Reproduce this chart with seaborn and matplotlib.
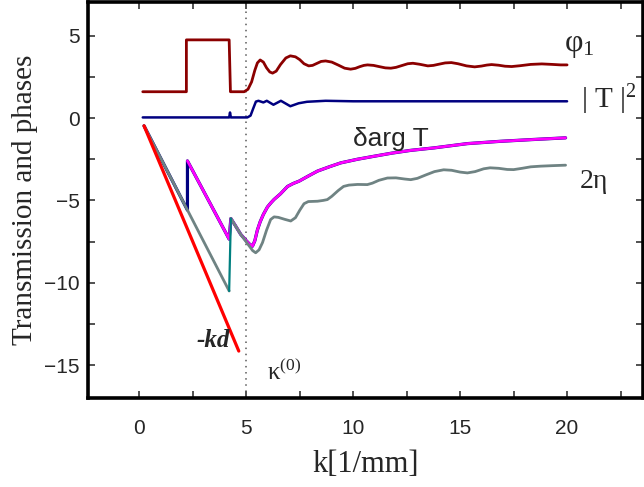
import numpy as np
import pandas as pd
import seaborn as sns
import matplotlib.pyplot as plt
from matplotlib.ticker import MultipleLocator

# Values
k_phi = [0.16, 2.2, 2.2, 4.2, 4.26, 4.9, 5.08, 5.25, 5.4, 5.52, 5.65, 5.8, 5.95, 6.1, 6.23, 6.4,
         6.6, 6.85, 7.06, 7.3, 7.5, 7.7, 7.92, 8.1, 8.3, 8.5, 8.71, 9.0, 9.3, 9.6, 9.88, 10.1,
         10.3, 10.5, 10.67, 10.95, 11.2, 11.5, 11.76, 12.0, 12.3, 12.55, 12.79, 13.1, 13.49,
         13.75, 14.0, 14.3, 14.59, 14.9, 15.3, 15.68, 16.0, 16.25, 16.47, 16.8, 17.1, 17.41,
         17.8, 18.3, 18.82, 19.3, 19.7, 20.0]
phi1 = [1.6, 1.6, 4.75, 4.75, 1.6, 1.6, 1.75, 2.2, 2.9, 3.35, 3.53, 3.4, 3.05, 2.8, 2.73, 2.85,
        3.25, 3.65, 3.78, 3.72, 3.55, 3.3, 3.17, 3.2, 3.32, 3.44, 3.47, 3.4, 3.22, 3.03, 2.97,
        3.02, 3.12, 3.2, 3.23, 3.2, 3.13, 3.05, 3.03, 3.08, 3.2, 3.3, 3.33, 3.27, 3.17,
        3.2, 3.27, 3.35, 3.37, 3.3, 3.17, 3.11, 3.16, 3.22, 3.25, 3.21, 3.15, 3.13,
        3.18, 3.26, 3.29, 3.26, 3.23, 3.23]

k_T2 = [0.16, 4.2, 4.24, 4.28, 5.05, 5.2, 5.33, 5.45, 5.57, 5.8, 5.96, 6.27, 6.62, 7.06, 7.45,
        7.84, 8.71, 10.0, 12.0, 15.0, 20.0]
T2 = [0.04, 0.04, 0.34, 0.04, 0.04, 0.15, 0.6, 1.0, 1.05, 0.95, 1.05, 0.81, 1.05, 0.72, 0.9,
      0.99, 1.05, 1.02, 1.02, 1.02, 1.02]

k_arg = [0.22, 2.25, 2.25, 4.2, 4.28, 4.5, 4.74, 5.0, 5.15, 5.29, 5.4, 5.52, 5.65, 5.8, 5.99,
         6.15, 6.3, 6.6, 6.93, 7.2, 7.47, 7.9, 8.33, 8.9, 9.42, 10.2, 10.97, 11.8, 12.69, 13.78,
         15.34, 16.89, 18.43, 19.93]
delta_arg = [-0.47, -5.59, -2.6, -7.35, -6.1, -6.55, -7.06, -7.45, -7.65, -7.78, -7.45, -6.8,
             -6.3, -5.85, -5.4, -5.15, -4.94, -4.6, -4.15, -3.97, -3.83, -3.52, -3.22, -2.95,
             -2.72, -2.5, -2.32, -2.13, -1.96, -1.81, -1.55, -1.41, -1.3, -1.2]

k_eta = [0.22, 4.2, 4.28, 4.74, 5.1, 5.3, 5.44, 5.6, 5.76, 5.95, 6.14, 6.3, 6.5, 6.8, 7.08, 7.3,
         7.5, 7.7, 7.9, 8.33, 8.6, 8.79, 9.0, 9.3, 9.55, 9.8, 10.2, 10.66, 10.9, 11.2, 11.6,
         12.0, 12.4, 12.69, 13.0, 13.4, 13.8, 14.23, 14.6, 15.0, 15.34, 15.7, 16.1, 16.4,
         16.8, 17.2, 17.5, 17.9, 18.3, 18.76, 19.3, 19.93]
two_eta = [-0.47, -10.5, -6.1, -7.06, -7.7, -8.05, -8.18, -8.0, -7.56, -6.8, -6.16, -6.0, -6.03,
           -6.15, -6.25, -6.05, -5.6, -5.2, -5.07, -5.05, -5.0, -4.95, -4.75, -4.4, -4.15,
           -4.07, -4.03, -4.04, -3.95, -3.78, -3.64, -3.63, -3.7, -3.74, -3.66, -3.45, -3.25,
           -3.14, -3.17, -3.28, -3.33, -3.25, -3.08, -3.02, -3.05, -3.12, -3.13, -3.05, -2.96,
           -2.92, -2.89, -2.86]

k_kd = [0.22, 4.65]
minus_kd = [-0.47, -14.15]

kappa0 = 5.0

# Plotting
sns.set_theme(style="ticks")
plt.rcParams['font.family'] = ['Liberation Sans', 'DejaVu Sans']
plt.rcParams['mathtext.fontset'] = 'custom'
plt.rcParams['mathtext.rm'] = 'Liberation Serif'
plt.rcParams['mathtext.it'] = 'Liberation Serif:italic'
serif = ['Liberation Serif', 'DejaVu Serif']

fig = plt.figure(figsize=(6.44, 4.87), dpi=100)
ax = fig.add_axes([88 / 644, 1 - 398 / 487, (643 - 88) / 644, (398 - 2) / 487])

phi_df = pd.DataFrame({'k': k_phi, 'v': phi1})
t2_df = pd.DataFrame({'k': k_T2, 'v': T2})
arg_df = pd.DataFrame({'k': k_arg, 'v': delta_arg})
eta_df = pd.DataFrame({'k': k_eta, 'v': two_eta})
kd_df = pd.DataFrame({'k': k_kd, 'v': minus_kd})

ax.axvline(kappa0, color='0.35', lw=1.1, ls=(0, (1, 3)), zorder=1)

kw = dict(x='k', y='v', sort=False, estimator=None, ax=ax)
sns.lineplot(data=arg_df, color='#000080', lw=2.3, **kw)
sns.lineplot(data=arg_df.iloc[2:], color='#ff00ff', lw=2.0, **kw)
sns.lineplot(data=eta_df.iloc[:2], color='#6f8383', lw=2.0, **kw)
sns.lineplot(data=eta_df.iloc[2:], color='#6f8383', lw=2.0, **kw)
sns.lineplot(data=eta_df.iloc[1:3], color='#008080', lw=1.6, **kw)
sns.lineplot(data=kd_df, color='#ff0000', lw=2.3, **kw)
sns.lineplot(data=t2_df, color='#000080', lw=1.8, **kw)
sns.lineplot(data=phi_df, color='#8b0000', lw=2.0, **kw)

ax.set_xlim(-2.4, 23.55)
ax.set_ylim(-17, 7.05)
ax.xaxis.set_major_locator(MultipleLocator(5))
ax.xaxis.set_minor_locator(MultipleLocator(2.5))
ax.yaxis.set_major_locator(MultipleLocator(5))
ax.yaxis.set_minor_locator(MultipleLocator(2.5))
ax.tick_params(which='both', direction='in', top=True, right=True, length=5, width=1.2,
               color='0.2', labelsize=15)
ax.tick_params(axis='x', pad=15)
ax.tick_params(axis='y', pad=6)
for s in ax.spines.values():
    s.set_linewidth(2.6)
    s.set_color('black')

ax.set_xlabel('k[1/mm]', family=serif, fontsize=22, labelpad=9)
ax.set_ylabel('Transmission and phases', family=serif, fontsize=21, labelpad=4)

ax.text(20.55, 4.4, 'φ$_1$', family=serif, fontsize=23, ha='center', va='center')
ax.text(21.95, 1.1, '| T |$^2$', family=serif, fontsize=21, ha='center', va='center')
ax.text(11.75, -1.3, 'δarg T', fontsize=19, ha='center', va='center')
ax.text(21.25, -3.85, '2η', family=serif, fontsize=20, ha='center', va='center')
ax.text(3.45, -13.5, '-kd', family=serif, fontsize=18, weight='bold', style='italic',
        ha='center', va='center')
ax.text(5.95, -15.4, 'κ$^{(0)}$', family=serif, fontsize=18, ha='left', va='center')

fig.savefig('out.png', dpi=100)
